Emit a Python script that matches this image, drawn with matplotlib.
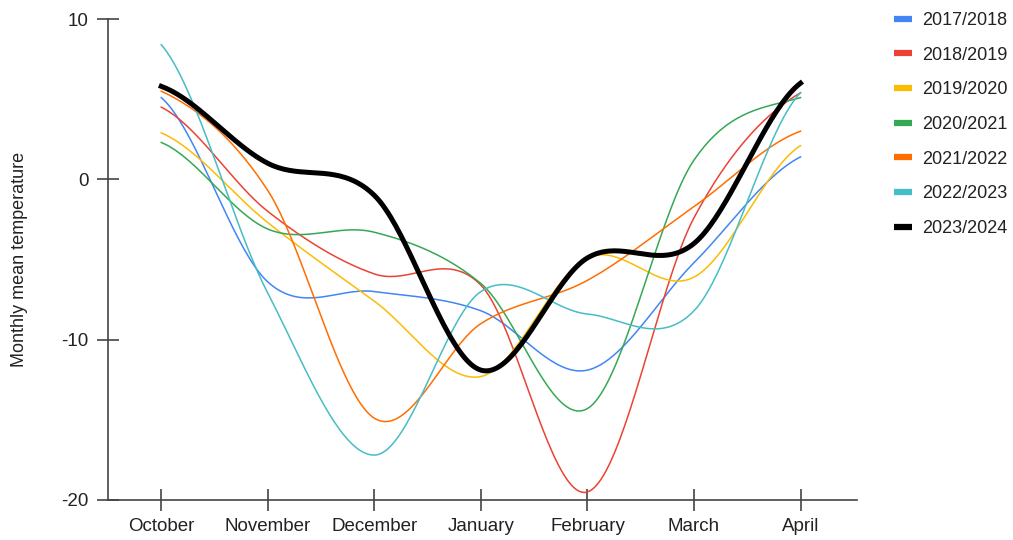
import matplotlib.pyplot as plt
import numpy as np
from matplotlib.lines import Line2D

plt.rcParams['font.family'] = ['Liberation Sans', 'DejaVu Sans']
plt.rcParams['axes.unicode_minus'] = False

months = ["October", "November", "December", "January", "February", "March", "April"]
seasons = ["2017/2018", "2018/2019", "2019/2020", "2020/2021", "2021/2022", "2022/2023", "2023/2024"]
colors = ["#4285F4", "#EA4335", "#FBBC04", "#34A853", "#FF6D01", "#46BDC6", "#000000"]

t_2017 = [5.1, -6.4, -7.0, -8.2, -11.9, -5.2, 1.4]
t_2018 = [4.5, -2.0, -5.9, -6.6, -19.5, -2.4, 5.4]
t_2019 = [2.9, -2.7, -7.6, -12.3, -4.9, -6.1, 2.1]
t_2020 = [2.3, -3.1, -3.3, -6.5, -14.3, 1.2, 5.1]
t_2021 = [5.5, -0.7, -14.9, -9.0, -6.3, -1.7, 3.0]
t_2022 = [8.4, -7.1, -17.2, -7.0, -8.4, -8.2, 5.4]
t_2023 = [5.8, 1.0, -1.0, -11.9, -4.9, -4.0, 6.0]
series = [t_2017, t_2018, t_2019, t_2020, t_2021, t_2022, t_2023]


def smooth(y, n=40):
    # cubic hermite with catmull-rom tangents, like a "function" curve
    y = np.asarray(y, dtype=float)
    m = np.zeros_like(y)
    m[1:-1] = (y[2:] - y[:-2]) / 2
    m[0] = (y[1] - y[0]) * 0.5
    m[-1] = (y[-1] - y[-2]) * 0.5
    xs, ys = [], []
    for i in range(len(y) - 1):
        t = np.linspace(0, 1, n, endpoint=False)
        h00 = 2 * t**3 - 3 * t**2 + 1
        h10 = t**3 - 2 * t**2 + t
        h01 = -2 * t**3 + 3 * t**2
        h11 = t**3 - t**2
        xs.append(i + t)
        ys.append(h00 * y[i] + h10 * m[i] + h01 * y[i + 1] + h11 * m[i + 1])
    xs.append([len(y) - 1])
    ys.append([y[-1]])
    return np.concatenate(xs), np.concatenate(ys)


fig = plt.figure(figsize=(10.13, 5.4), dpi=100)
ax = fig.add_axes([0.1066, 0.0741, 0.7394, 0.8907])

for vals, c, lab in zip(series, colors, seasons):
    x, y = smooth(vals)
    lw = 3.6 if c == "#000000" else 1.1
    ax.plot(x, y, color=c, lw=lw, label=lab, zorder=3 if c == "#000000" else 2)

ax.set_xlim(-0.5, 6.53)
ax.set_ylim(-20, 10)
ax.set_xticks(range(len(months)))
ax.set_xticklabels(months)
ax.set_yticks([-20, -10, 0, 10])
for s in ["top", "right"]:
    ax.spines[s].set_visible(False)
for s in ["left", "bottom"]:
    ax.spines[s].set_color("#444444")
    ax.spines[s].set_linewidth(1.2)
ax.tick_params(direction="inout", length=16, width=1.2, color="#444444",
               labelsize=13.5, labelcolor="#222222")
ax.tick_params(axis="x", pad=5)
ax.tick_params(axis="y", pad=6)
ax.set_ylabel("Monthly mean temperature", fontsize=13, color="#222222", labelpad=24)

handles = [Line2D([0], [0], color=c, lw=4.5, solid_capstyle="butt") for c in colors]
fig.legend(handles, seasons, loc="upper left", bbox_to_anchor=(0.866, 1.008),
           frameon=False, fontsize=13, handlelength=1.0, handletextpad=0.6,
           labelspacing=0.98, labelcolor="#222222")

fig.savefig("out.png", dpi=100)
